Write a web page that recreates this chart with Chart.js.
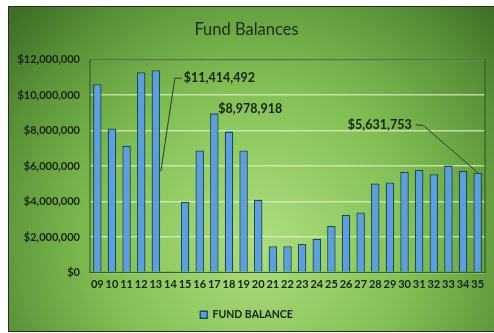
<!DOCTYPE html>
<html>
<head>
<meta charset="utf-8">
<script src="https://cdn.jsdelivr.net/npm/chart.js@4/dist/chart.umd.min.js"></script>
<style>
html,body{margin:0;padding:0;background:#fff;}
#wrap{position:absolute;left:8px;top:6px;width:486px;height:326px;}
canvas{display:block;}
</style>
</head>
<body>
<div id="wrap"><canvas id="c" width="486" height="326"></canvas></div>
<script>
const categories = ["09","10","11","12","13","14","15","16","17","18","19","20","21","22","23","24","25","26","27","28","29","30","31","32","33","34","35"];
const fundBalance = [10620000,8120000,7150000,11300000,11414492,50000,3980000,6880000,8978918,7950000,6880000,4110000,1480000,1480000,1610000,1900000,2620000,3240000,3390000,5020000,5080000,5690000,5780000,5540000,6030000,5730000,5631753];
const yTicks = [0,2000000,4000000,6000000,8000000,10000000,12000000];
const callouts = [
  {cat:"13", text:"$11,414,492"},
  {cat:"17", text:"$8,978,918"},
  {cat:"35", text:"$5,631,753"}
];

const fmt = v => "$" + v.toLocaleString("en-US");
const FONT = "Lato, 'Open Sans', sans-serif";
const TXT = "#14220c";

const bgPlugin = {
  id:"bg",
  beforeDraw(chart){
    const {ctx,width,height} = chart;
    ctx.save();
    const g = ctx.createRadialGradient(250,235,10,250,235,330);
    g.addColorStop(0,"#acdc7c");
    g.addColorStop(0.45,"#82c055");
    g.addColorStop(0.8,"#5a9338");
    g.addColorStop(1,"#3f6f27");
    ctx.fillStyle = g;
    ctx.fillRect(0,0,width,height);
    ctx.strokeStyle = "#2a2a2a";
    ctx.lineWidth = 1;
    ctx.strokeRect(0.5,0.5,width,height-1);
    ctx.restore();
  },
  afterDraw(chart){
    const {ctx,chartArea:a} = chart;
    ctx.save();
    ctx.strokeStyle = "#35602a";
    ctx.lineWidth = 1.2;
    ctx.strokeRect(a.left,a.top,a.right-a.left,a.bottom-a.top);
    ctx.restore();
  }
};

const calloutPlugin = {
  id:"callouts",
  afterDatasetsDraw(chart){
    const {ctx} = chart;
    const xs = chart.scales.x, ys = chart.scales.y;
    ctx.save();
    ctx.font = "bold 12.5px " + FONT;
    ctx.fillStyle = TXT;
    ctx.strokeStyle = "#274418";
    ctx.lineWidth = 1;
    ctx.textBaseline = "middle";
    callouts.forEach((c,i)=>{
      const idx = categories.indexOf(c.cat);
      const v = fundBalance[idx];
      const x = xs.getPixelForValue(idx);
      const yTop = ys.getPixelForValue(v);
      if(i===0){
        const lx = x+28, ly = yTop+8;
        ctx.textAlign="left";
        ctx.fillText(c.text,lx,ly);
        ctx.beginPath();
        ctx.moveTo(lx-2,ly);
        ctx.lineTo(lx-9,ly);
        ctx.lineTo(x+5, ys.getPixelForValue(v*0.5));
        ctx.stroke();
      } else if(i===1){
        ctx.textAlign="left";
        ctx.fillText(c.text,x+4,yTop-4);
      } else {
        const rx = x-66, ly = yTop-48;
        ctx.textAlign="right";
        ctx.fillText(c.text,rx,ly);
        ctx.beginPath();
        ctx.moveTo(rx+4,ly);
        ctx.lineTo(rx+12,ly+1);
        ctx.lineTo(x,yTop);
        ctx.stroke();
      }
    });
    ctx.restore();
  }
};

new Chart(document.getElementById("c"),{
  type:"bar",
  data:{
    labels:categories,
    datasets:[{
      label:"FUND BALANCE",
      data:fundBalance,
      backgroundColor:"#5b9fe2",
      borderColor:"#1d4a55",
      borderWidth:1.3,
      barPercentage:0.58,
      categoryPercentage:1
    }]
  },
  options:{
    responsive:false,
    animation:false,
    layout:{padding:{left:0,right:9,bottom:2}},
    plugins:{
      title:{display:true,text:"Fund Balances",color:"#1b2a12",font:{family:FONT,size:16.5,weight:"normal"},padding:{top:14,bottom:20}},
      legend:{position:"bottom",labels:{color:TXT,font:{family:FONT,size:10.5,weight:"bold"},boxWidth:7,boxHeight:7,padding:8}},
      tooltip:{enabled:false}
    },
    scales:{
      x:{
        grid:{display:false,drawTicks:false},
        border:{display:false},
        afterFit(s){ s.height = 29; },
        ticks:{color:TXT,font:{family:FONT,size:11,weight:"bold"},autoSkip:false,maxRotation:0,padding:5}
      },
      y:{
        min:0,max:12000000,
        afterBuildTicks(s){ s.ticks = yTicks.map(v=>({value:v})); },
        afterFit(s){ s.width = 82; },
        grid:{color:"rgba(220,240,200,0.75)",lineWidth:1.5,drawTicks:false},
        border:{display:false},
        ticks:{color:TXT,font:{family:FONT,size:11,weight:"bold"},padding:10,callback:v=>fmt(v)}
      }
    }
  },
  plugins:[bgPlugin,calloutPlugin]
});
</script>
</body>
</html>
